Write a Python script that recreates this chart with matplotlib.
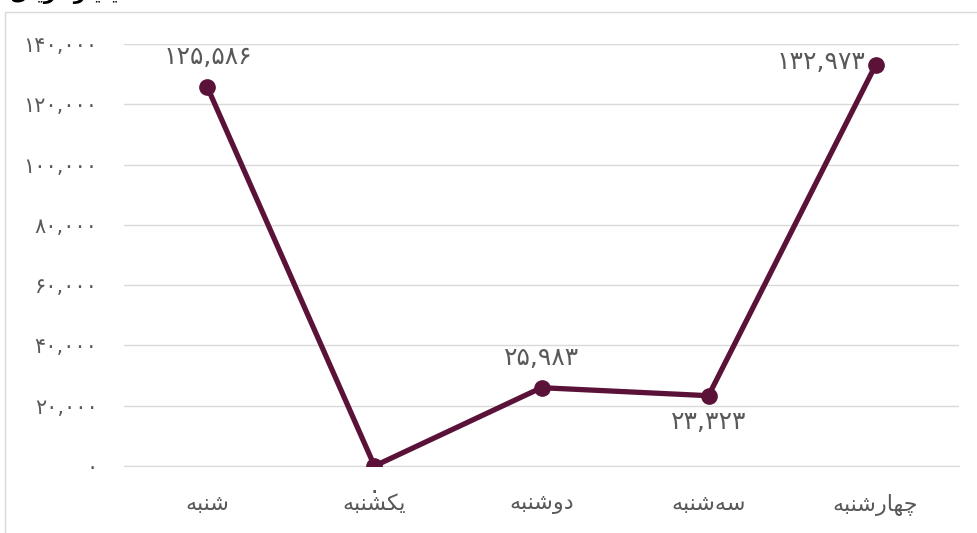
import matplotlib
matplotlib.use("Agg")
import matplotlib.pyplot as plt
from matplotlib.patches import Rectangle

# data
days = ["شنبه", "یکشنبه", "دوشنبه", "سه‌شنبه", "چهارشنبه"]
values = [125586, 0, 25983, 23323, 132973]
y_ticks = [0, 20000, 40000, 60000, 80000, 100000, 120000, 140000]
label_pos = ["above", "below", "above", "below", "left"]
unit_title = "میلیارد ریال"

# minimal Arabic-script shaping (matplotlib does no shaping / bidi)
FORMS = {  # isolated, final, initial, medial
    "ب": ("\uFE8F", "\uFE90", "\uFE91", "\uFE92"),
    "ه": ("\uFEE9", "\uFEEA", "\uFEEB", "\uFEEC"),
    "ن": ("\uFEE5", "\uFEE6", "\uFEE7", "\uFEE8"),
    "ش": ("\uFEB5", "\uFEB6", "\uFEB7", "\uFEB8"),
    "س": ("\uFEB1", "\uFEB2", "\uFEB3", "\uFEB4"),
    "ی": ("\uFBFC", "\uFBFD", "\uFBFE", "\uFBFF"),
    "ک": ("\uFB8E", "\uFB8F", "\uFB90", "\uFB91"),
    "چ": ("\uFB7A", "\uFB7B", "\uFB7C", "\uFB7D"),
    "ل": ("\uFEDD", "\uFEDE", "\uFEDF", "\uFEE0"),
    "م": ("\uFEE1", "\uFEE2", "\uFEE3", "\uFEE4"),
    "د": ("\uFEA9", "\uFEAA", None, None),
    "و": ("\uFEED", "\uFEEE", None, None),
    "ا": ("\uFE8D", "\uFE8E", None, None),
    "ر": ("\uFEAD", "\uFEAE", None, None),
}


def joins_next(c):
    return c in FORMS and FORMS[c][2] is not None


def shape(s):
    out = []
    for i, c in enumerate(s):
        if c not in FORMS:
            out.append(c)
            continue
        prev = s[i - 1] if i > 0 else ""
        nxt = s[i + 1] if i + 1 < len(s) else ""
        from_prev = joins_next(prev)
        to_next = joins_next(c) and nxt in FORMS
        iso, fin, ini, med = FORMS[c]
        if from_prev and to_next:
            out.append(med)
        elif from_prev:
            out.append(fin)
        elif to_next:
            out.append(ini)
        else:
            out.append(iso)
    return "".join(ch for ch in reversed(out) if ch != "\u200c")


def fa_num(n):
    return f"{n:,}".translate(str.maketrans("0123456789", "۰۱۲۳۴۵۶۷۸۹"))


plt.rcParams["font.family"] = ["DejaVu Sans"]
GRAY = "#595959"
LINE = "#5a1238"

fig = plt.figure(figsize=(9.77, 5.33), dpi=100)
ax = fig.add_axes([0.1269, 0.1257, 0.8547, 0.7917])

x = list(range(len(days)))
ax.plot(x, values, color=LINE, lw=3.8, marker="o", ms=11, zorder=3,
        solid_capstyle="round")

for xi, v, pos in zip(x, values, label_pos):
    if pos == "above":
        ax.annotate(fa_num(v), (xi, v), xytext=(0, 13), textcoords="offset points",
                    ha="center", va="bottom", fontsize=18, color=GRAY)
    elif pos == "below":
        ax.annotate(fa_num(v), (xi, v), xytext=(0, -10), textcoords="offset points",
                    ha="center", va="top", fontsize=18, color=GRAY)
    else:
        ax.annotate(fa_num(v), (xi, v), xytext=(-7, 2), textcoords="offset points",
                    ha="right", va="center", fontsize=18, color=GRAY)

ax.set_xlim(-0.5, 4.5)
ax.set_ylim(0, 140000)
ax.set_yticks(y_ticks)
ax.set_yticklabels([fa_num(t) for t in y_ticks])
ax.set_xticks(x)
ax.set_xticklabels([shape(d) for d in days])
ax.tick_params(axis="y", length=0, labelsize=15, colors=GRAY, pad=19)
ax.tick_params(axis="x", length=0, labelsize=16, colors=GRAY, pad=20)
ax.grid(axis="y", color="#d9d9d9", lw=1)
ax.set_axisbelow(True)
for s in ["top", "right", "left"]:
    ax.spines[s].set_visible(False)
ax.spines["bottom"].set_color("#d9d9d9")

# chart-area border and clipped unit title
fig.patches.append(Rectangle((5 / 977, -0.1), 1.2, 1 - 12 / 533 + 0.1,
                             transform=fig.transFigure, fill=False,
                             edgecolor="#d9d9d9", lw=1))
fig.text(0.135, 1.012, shape(unit_title), ha="right", va="center",
         fontsize=15, fontweight="bold", color="black")

fig.savefig("out.png", dpi=100)
